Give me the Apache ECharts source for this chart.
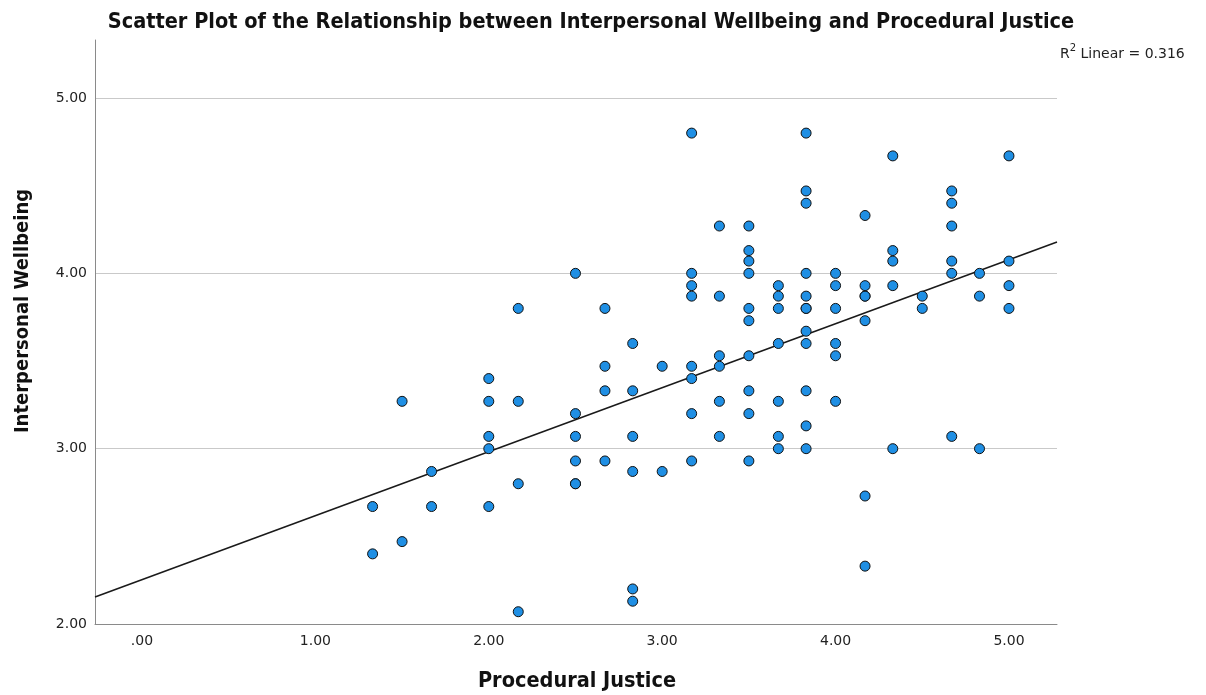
<!DOCTYPE html>
<html>
<head>
<meta charset="utf-8">
<script src="https://cdn.jsdelivr.net/npm/echarts@6/dist/echarts.min.js"></script>
<style>
html,body{margin:0;padding:0;background:#fff;}
#chart{width:1206px;height:695px;}
</style>
</head>
<body>
<div id="chart"></div>
<script>
// Procedural Justice (x) and Interpersonal Wellbeing (y), paired
const procJustice = [
  1.33,1.33,
  1.5,1.5,
  1.67,1.67,
  2.0,2.0,2.0,2.0,2.0,
  2.17,2.17,2.17,2.17,
  2.5,2.5,2.5,2.5,2.5,2.5,
  2.67,2.67,2.67,2.67,
  2.83,2.83,2.83,2.83,2.83,2.83,
  3.0,3.0,
  3.17,3.17,3.17,3.17,3.17,3.17,3.17,3.17,
  3.33,3.33,3.33,3.33,3.33,3.33,
  3.5,3.5,3.5,3.5,3.5,3.5,3.5,3.5,3.5,3.5,
  3.67,3.67,3.67,3.67,3.67,3.67,3.67,
  3.83,3.83,3.83,3.83,3.83,3.83,3.83,3.83,3.83,3.83,3.83,3.83,
  4.0,4.0,4.0,4.0,4.0,4.0,
  4.17,4.17,4.17,4.17,4.17,4.17,4.17,
  4.33,4.33,4.33,4.33,4.33,
  4.5,4.5,
  4.67,4.67,4.67,4.67,4.67,4.67,
  4.83,4.83,4.83,
  5.0,5.0,5.0,5.0
];
const wellbeing = [
  2.67,2.40,
  3.27,2.47,
  2.87,2.67,
  3.40,3.27,3.07,3.00,2.67,
  3.80,3.27,2.80,2.07,
  4.00,3.20,3.07,2.93,2.80,2.80,
  3.80,3.47,3.33,2.93,
  3.60,3.33,3.07,2.87,2.20,2.13,
  3.47,2.87,
  4.80,4.00,3.93,3.87,3.47,3.40,3.20,2.93,
  4.27,3.87,3.53,3.47,3.27,3.07,
  4.27,4.13,4.07,4.00,3.80,3.73,3.53,3.33,3.20,2.93,
  3.93,3.87,3.80,3.60,3.27,3.07,3.00,
  4.80,4.47,4.40,4.00,3.87,3.80,3.80,3.67,3.60,3.33,3.13,3.00,
  4.00,3.93,3.80,3.60,3.53,3.27,
  4.33,3.93,3.87,3.87,3.73,2.73,2.33,
  4.67,4.13,4.07,3.93,3.00,
  3.87,3.80,
  4.47,4.40,4.27,4.07,4.00,3.07,
  4.00,3.87,3.00,
  4.67,4.07,3.93,3.80
];
const xTicks = [0,1,2,3,4,5];
const yTicks = [2,3,4,5];
// Fit line
const fitIntercept = 2.253;
const fitSlope = 0.365;
const rSquared = 0.316;

const xMin = -0.271, xMax = 5.277, yMin = 2, yMax = 5.331;

const points = procJustice.map((x, i) => [x, wellbeing[i]]);
const fitData = [xMin, xMax].map(x => [x, fitIntercept + fitSlope * x]);

function fmt(v){
  const s = v.toFixed(2);
  return s.startsWith('0.') ? s.slice(1) : s;
}

const chart = echarts.init(document.getElementById('chart'), null, {renderer:'canvas'});
chart.setOption({
  backgroundColor:'#ffffff',
  animation:false,
  grid:{left:95,right:149,top:40,bottom:71,containLabel:false},
  xAxis:{
    type:'value', min:xMin, max:xMax,
    axisLine:{show:true,onZero:false,lineStyle:{color:'#8a8a8a',width:1}},
    axisTick:{show:false},
    splitLine:{show:false},
    axisLabel:{customValues:xTicks,formatter:fmt,color:'#222',fontSize:14,fontFamily:'DejaVu Sans',margin:10}
  },
  yAxis:{
    type:'value', min:yMin, max:yMax, interval:1,
    axisLine:{show:true,onZero:false,lineStyle:{color:'#8a8a8a',width:1}},
    axisTick:{show:false,customValues:yTicks},
    splitLine:{show:true,lineStyle:{color:'#c9c9c9',width:1}},
    axisLabel:{customValues:yTicks,formatter:fmt,color:'#222',fontSize:14,fontFamily:'DejaVu Sans',margin:8}
  },
  series:[
    {
      type:'line', data:fitData, showSymbol:false, silent:true,
      lineStyle:{color:'#1a1a1a',width:1.6}, z:3
    },
    {
      type:'scatter', data:points, symbol:'circle', symbolSize:10,
      itemStyle:{color:'#1f8fe4',borderColor:'#111',borderWidth:1,opacity:1}, z:4
    }
  ],
  graphic:[
    {type:'text',x:591,y:22,z:10,style:{text:'Scatter Plot of the Relationship between Interpersonal Wellbeing and Procedural Justice',
      font:'bold 21.5px "DejaVu Sans Condensed", "DejaVu Sans"',fill:'#111',textAlign:'center',textVerticalAlign:'middle'}},
    {type:'text',x:1060,y:52,z:10,style:{
      text:'{r|R}{s|2}{r| Linear = ' + rSquared.toFixed(3) + '}',
      rich:{
        r:{font:'14px "DejaVu Sans"',fill:'#222',verticalAlign:'bottom',lineHeight:18},
        s:{font:'10px "DejaVu Sans"',fill:'#222',verticalAlign:'top',lineHeight:18}
      },
      textAlign:'left',textVerticalAlign:'middle'}},
    {type:'text',x:577,y:681,z:10,style:{text:'Procedural Justice',
      font:'bold 21.5px "DejaVu Sans Condensed", "DejaVu Sans"',fill:'#111',textAlign:'center',textVerticalAlign:'middle'}},
    {type:'text',x:23,y:311,rotation:Math.PI/2,z:10,style:{text:'Interpersonal Wellbeing',
      font:'bold 20px "DejaVu Sans Condensed", "DejaVu Sans"',fill:'#111',textAlign:'center',textVerticalAlign:'middle'}}
  ]
});
</script>
</body>
</html>
